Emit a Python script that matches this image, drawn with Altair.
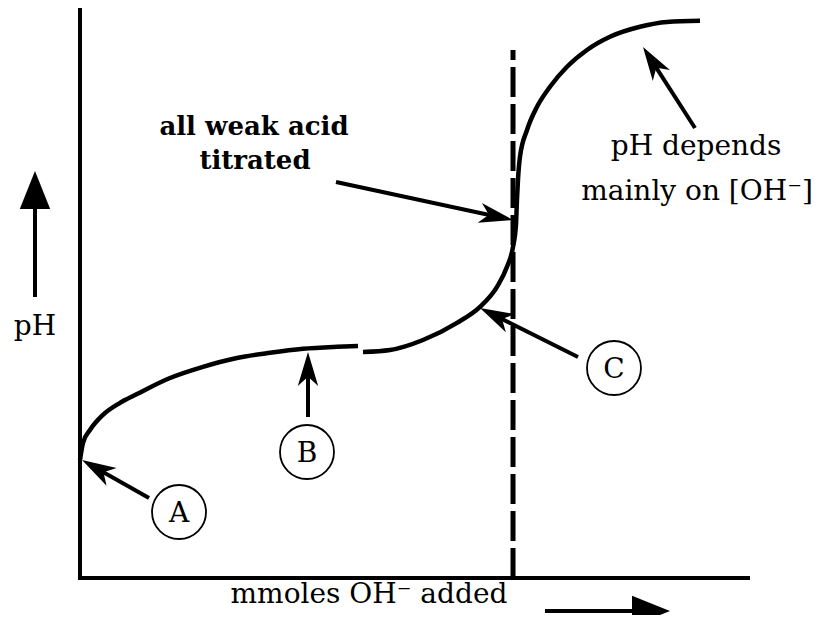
import math
import altair as alt
import pandas as pd

# ---------------- data (x: mmoles OH- added, 0-100 arbitrary; y: pH, 0-14) -------------
buffer_x = [0.0, 0.45, 1.49, 3.43, 5.97, 8.51, 13.43, 18.36, 23.43, 28.36, 33.28, 38.36, 41.49]
buffer_ph = [2.95, 3.38, 3.70, 4.08, 4.38, 4.60, 5.00, 5.28, 5.50, 5.63, 5.73, 5.78, 5.80]

equiv_x = [42.24, 46.27, 51.19, 56.27, 59.70, 62.24, 63.73, 64.63, 65.07, 65.22, 65.37,
           65.67, 66.72, 68.21, 70.15, 72.69, 75.67, 79.10, 83.58, 87.61, 92.54]
equiv_ph = [5.65, 5.70, 5.95, 6.38, 6.78, 7.28, 7.78, 8.28, 8.83, 9.45, 9.95,
            10.53, 11.20, 11.78, 12.28, 12.78, 13.20, 13.53, 13.78, 13.90, 13.93]

equivalence_x = 64.63
equivalence_top = 13.2

point_labels = ["A", "B", "C"]
point_x = [14.78, 33.88, 79.70]
point_y = [1.65, 3.15, 5.25]

note_lines = ["all weak acid", "titrated", "pH depends", "mainly on [OH\u207b]"]
note_x = [25.97, 26.12, 91.94, 92.09]
note_y = [11.075, 10.225, 10.575, 9.45]
note_bold = [True, True, False, False]

# annotation arrows: tail -> tip
arrow_tail_x = [10.30, 34.03, 74.33, 38.21, 91.79]
arrow_tail_y = [2.00, 4.025, 5.525, 9.90, 11.25]
arrow_tip_x = [0.30, 34.03, 59.70, 64.63, 84.03]
arrow_tip_y = [2.95, 5.65, 6.75, 8.95, 13.275]

# axis-title arrows
axis_arrow_tail_x = [-6.72, 69.40]
axis_arrow_tail_y = [7.025, -0.825]
axis_arrow_tip_x = [-6.72, 88.06]
axis_arrow_tip_y = [10.175, -0.825]

axis_titles = ["pH", "mmoles OH\u207b added"]
axis_title_x = [-6.72, 43.13]
axis_title_y = [6.075, -0.625]

# ---------------- layout ----------------
W, H = 804, 607
XMIN, XMAX = -10.746, 109.254
YMIN, YMAX = -0.925, 14.25
PX_X = W / (XMAX - XMIN)
PX_Y = H / (YMAX - YMIN)
FONT = "DejaVu Serif"

xs = alt.Scale(domain=[XMIN, XMAX], nice=False, zero=False)
ys = alt.Scale(domain=[YMIN, YMAX], nice=False, zero=False)
X = lambda f="x": alt.X(f"{f}:Q", scale=xs, axis=None)
Y = lambda f="y": alt.Y(f"{f}:Q", scale=ys, axis=None)

BARB = "M0,-1 L0.6,1 L0,0.45 L-0.6,1 Z"
TRI = "M0,-1 L0.8,1 L-0.8,1 Z"


def arrows(tx, ty, px, py, length):
    rows = []
    for a, b, c, d in zip(tx, ty, px, py):
        dx = (c - a) * PX_X
        dy = -(d - b) * PX_Y
        dist = math.hypot(dx, dy)
        ux, uy = dx / dist, dy / dist
        s = length / 2
        cx = c - ux * s / PX_X
        cy = d + uy * s / PX_Y
        ang = math.degrees(math.atan2(dx, -dy)) % 360
        rows.append(dict(x=a, y=b, x2=cx, y2=cy, hx=cx, hy=cy, angle=ang))
    return pd.DataFrame(rows)


axes_df = pd.DataFrame([
    dict(x=0, x2=0, y=-0.05, y2=14.25),
    dict(x=-0.3, x2=100, y=0, y2=0),
])
axes = alt.Chart(axes_df).mark_rule(color="black", strokeWidth=4).encode(
    x=X(), x2="x2", y=Y(), y2="y2")

dash = alt.Chart(pd.DataFrame([dict(x=equivalence_x, y=0, y2=equivalence_top)])).mark_rule(
    color="black", strokeWidth=5, strokeDash=[30, 7]).encode(x=X(), y=Y(), y2="y2")

curve_df = pd.concat([
    pd.DataFrame(dict(x=buffer_x, y=buffer_ph, seg="buffer", i=range(len(buffer_x)))),
    pd.DataFrame(dict(x=equiv_x, y=equiv_ph, seg="equiv", i=range(len(equiv_x)))),
])
curve = alt.Chart(curve_df).mark_line(color="black", strokeWidth=4.5, interpolate="monotone").encode(
    x=X(), y=Y(), detail="seg:N", order="i:Q")

circ_df = pd.DataFrame(dict(x=point_x, y=point_y, label=point_labels))
circles = alt.Chart(circ_df).mark_point(shape="circle", filled=False, color="black",
                                        strokeWidth=1.8, size=2916, opacity=1).encode(x=X(), y=Y())
letters = alt.Chart(circ_df).mark_text(font=FONT, fontSize=28, align="center",
                                       baseline="alphabetic", dy=10, color="black").encode(
    x=X(), y=Y(), text="label:N")

ann = arrows(arrow_tail_x, arrow_tail_y, arrow_tip_x, arrow_tip_y, 34)
shafts = alt.Chart(ann).mark_rule(color="black", strokeWidth=4).encode(x=X(), y=Y(), x2="x2", y2="y2")
heads = alt.Chart(ann).mark_point(shape=BARB, filled=True, color="black", opacity=1,
                                  size=34 ** 2, strokeWidth=0).encode(
    x=X("hx"), y=Y("hy"), angle=alt.Angle("angle:Q", scale=None))

axa = arrows(axis_arrow_tail_x, axis_arrow_tail_y, axis_arrow_tip_x, axis_arrow_tip_y, 38)
ax_shafts = alt.Chart(axa).mark_rule(color="black", strokeWidth=4).encode(x=X(), y=Y(), x2="x2", y2="y2")
ax_heads = alt.Chart(axa).mark_point(shape=TRI, filled=True, color="black", opacity=1,
                                     size=38 ** 2, strokeWidth=0).encode(
    x=X("hx"), y=Y("hy"), angle=alt.Angle("angle:Q", scale=None))

notes_df = pd.DataFrame(dict(x=note_x, y=note_y, text=note_lines, bold=note_bold))
notes_bold = alt.Chart(notes_df[notes_df.bold]).mark_text(
    font=FONT, fontSize=26, fontWeight="bold", align="center", baseline="alphabetic", color="black"
).encode(x=X(), y=Y(), text="text:N")
notes_reg = alt.Chart(notes_df[~notes_df.bold]).mark_text(
    font=FONT, fontSize=28, align="center", baseline="alphabetic", color="black"
).encode(x=X(), y=Y(), text="text:N")

titles_df = pd.DataFrame(dict(x=axis_title_x, y=axis_title_y, text=axis_titles))
titles = alt.Chart(titles_df).mark_text(
    font=FONT, fontSize=28, align="center", baseline="alphabetic", color="black"
).encode(x=X(), y=Y(), text="text:N")

chart = alt.layer(
    axes, dash, curve, circles, letters, shafts, heads, ax_shafts, ax_heads,
    notes_bold, notes_reg, titles
).properties(
    width=W, height=H, padding=0, autosize=alt.AutoSizeParams(type="none")
).configure_view(strokeWidth=0)

chart.save("out.html", embed_options={"renderer": "svg", "actions": False})
